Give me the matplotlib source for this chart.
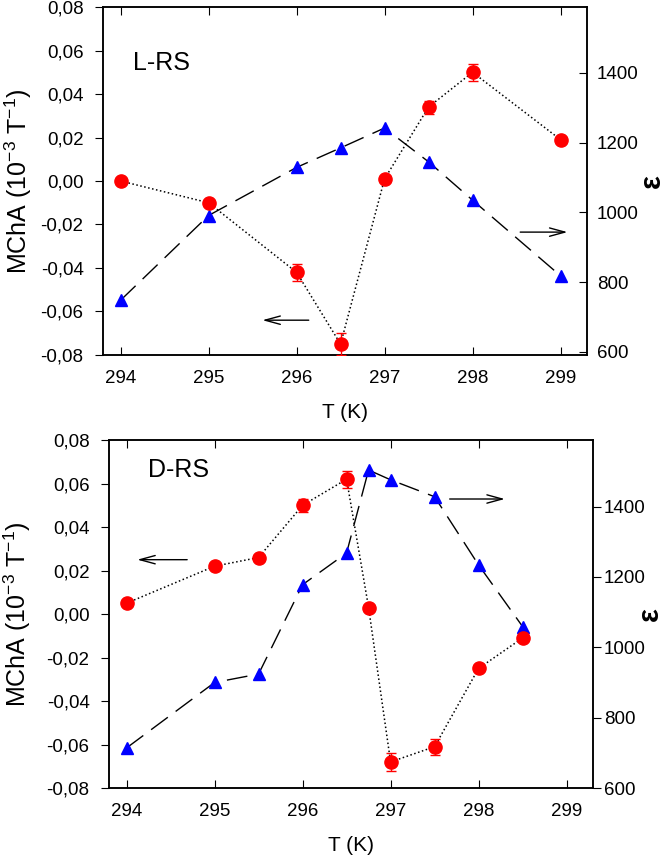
import matplotlib
matplotlib.use('Agg')
import matplotlib.pyplot as plt

plt.rcParams['font.family'] = ['Liberation Sans', 'DejaVu Sans']
plt.rcParams['mathtext.default'] = 'regular'

# L-RS panel
t_l_mcha = [294, 295, 296, 296.5, 297, 297.5, 298, 299]
mcha_l = [0.000, -0.010, -0.042, -0.075, 0.001, 0.034, 0.050, 0.019]
mcha_l_err = [0.001, 0.001, 0.004, 0.005, 0.001, 0.003, 0.004, 0.001]
t_l_eps = [294, 295, 296, 296.5, 297, 297.5, 298, 299]
eps_l = [748, 991, 1129, 1185, 1242, 1145, 1035, 818]

# D-RS panel
t_d_mcha = [294, 295, 295.5, 296, 296.5, 296.75, 297, 297.5, 298, 298.5]
mcha_d = [0.005, 0.022, 0.026, 0.050, 0.062, 0.003, -0.068, -0.061, -0.025, -0.011]
mcha_d_err = [0.001, 0.001, 0.001, 0.003, 0.004, 0.001, 0.004, 0.0036, 0.001, 0.001]
t_d_eps = [294, 295, 295.5, 296, 296.5, 296.75, 297, 297.5, 298, 298.5]
eps_d = [714, 900, 924, 1178, 1268, 1504, 1476, 1428, 1234, 1059]

x_ticks = [294, 295, 296, 297, 298, 299]
y_ticks = [-0.08, -0.06, -0.04, -0.02, 0.00, 0.02, 0.04, 0.06, 0.08]
y_labels = ['-0,08', '-0,06', '-0,04', '-0,02', '0,00', '0,02', '0,04', '0,06', '0,08']
eps_ticks = [600, 800, 1000, 1200, 1400]

# arrows: (tail x, tail y), (head x, head y) in left-axis data units
arrows_l = [((296.17, -0.064), (295.58, -0.064)), ((298.51, -0.0235), (299.11, -0.0235))]
arrows_d = [((294.72, 0.025), (294.09, 0.025)), ((297.64, 0.0529), (298.33, 0.0529))]

fig = plt.figure(figsize=(6.67, 8.56), dpi=100)
ax1 = fig.add_axes([0.1544, 0.5853, 0.7256, 0.4065])
ax2 = fig.add_axes([0.1634, 0.0794, 0.7256, 0.4065])


def panel(ax, t1, m, merr, t2, e, arrows, name, name_pos, eps_lim,
          right_dir, right_pad, ylab_pad, eps_x):
    axr = ax.twinx()
    ax.errorbar(t1, m, yerr=merr, fmt='o', color='red', ms=9.5, ecolor='red',
                elinewidth=1, capsize=3.5, capthick=1, zorder=3)
    ax.plot(t1, m, ':', color='black', lw=1.1, zorder=2)
    axr.plot(t2, e, color='black', lw=1, dashes=(15, 7), zorder=2)
    axr.plot(t2, e, '^', color='blue', ms=9, zorder=3, linestyle='none')

    ax.set_xlim(293.8, 299.3)
    ax.set_ylim(-0.08, 0.08)
    axr.set_ylim(*eps_lim)
    ax.set_xticks(x_ticks)
    ax.set_yticks(y_ticks)
    ax.set_yticklabels(y_labels)
    axr.set_yticks(eps_ticks)

    ax.tick_params(axis='x', direction='in', top=True, labelsize=13.5, length=6, pad=11)
    ax.tick_params(axis='y', direction='out', labelsize=13.5, length=6, pad=8)
    axr.tick_params(axis='y', direction=right_dir, labelsize=13.5, length=6, pad=right_pad)
    for a in (ax, axr):
        for s in a.spines.values():
            s.set_linewidth(1.1)

    ax.set_xlabel('T (K)', fontsize=15, labelpad=11)
    ax.set_ylabel('MChA (10$^{-3}$ T$^{-1}$)', fontsize=18, labelpad=ylab_pad)
    axr.set_ylabel('ε', fontsize=21, fontweight='bold', rotation=90)
    axr.yaxis.set_label_coords(eps_x, 0.5)

    ax.text(name_pos[0], name_pos[1], name, transform=ax.transAxes, fontsize=18,
            va='center', ha='left')
    for tail, head in arrows:
        ax.annotate('', xy=head, xytext=tail,
                    arrowprops=dict(arrowstyle='->,head_length=1.1,head_width=0.3',
                                    color='black', lw=1))
    ax.set_zorder(axr.get_zorder() + 1)
    ax.patch.set_visible(False)


panel(ax1, t_l_mcha, mcha_l, mcha_l_err, t_l_eps, eps_l, arrows_l, 'L-RS',
      (0.062, 0.839), (591, 1589), 'in', 7, 5, 1.105)
panel(ax2, t_d_mcha, mcha_d, mcha_d_err, t_d_eps, eps_d, arrows_d, 'D-RS',
      (0.081, 0.914), (600, 1589), 'out', 2, 10, 1.088)

fig.savefig('out.png', dpi=100)
